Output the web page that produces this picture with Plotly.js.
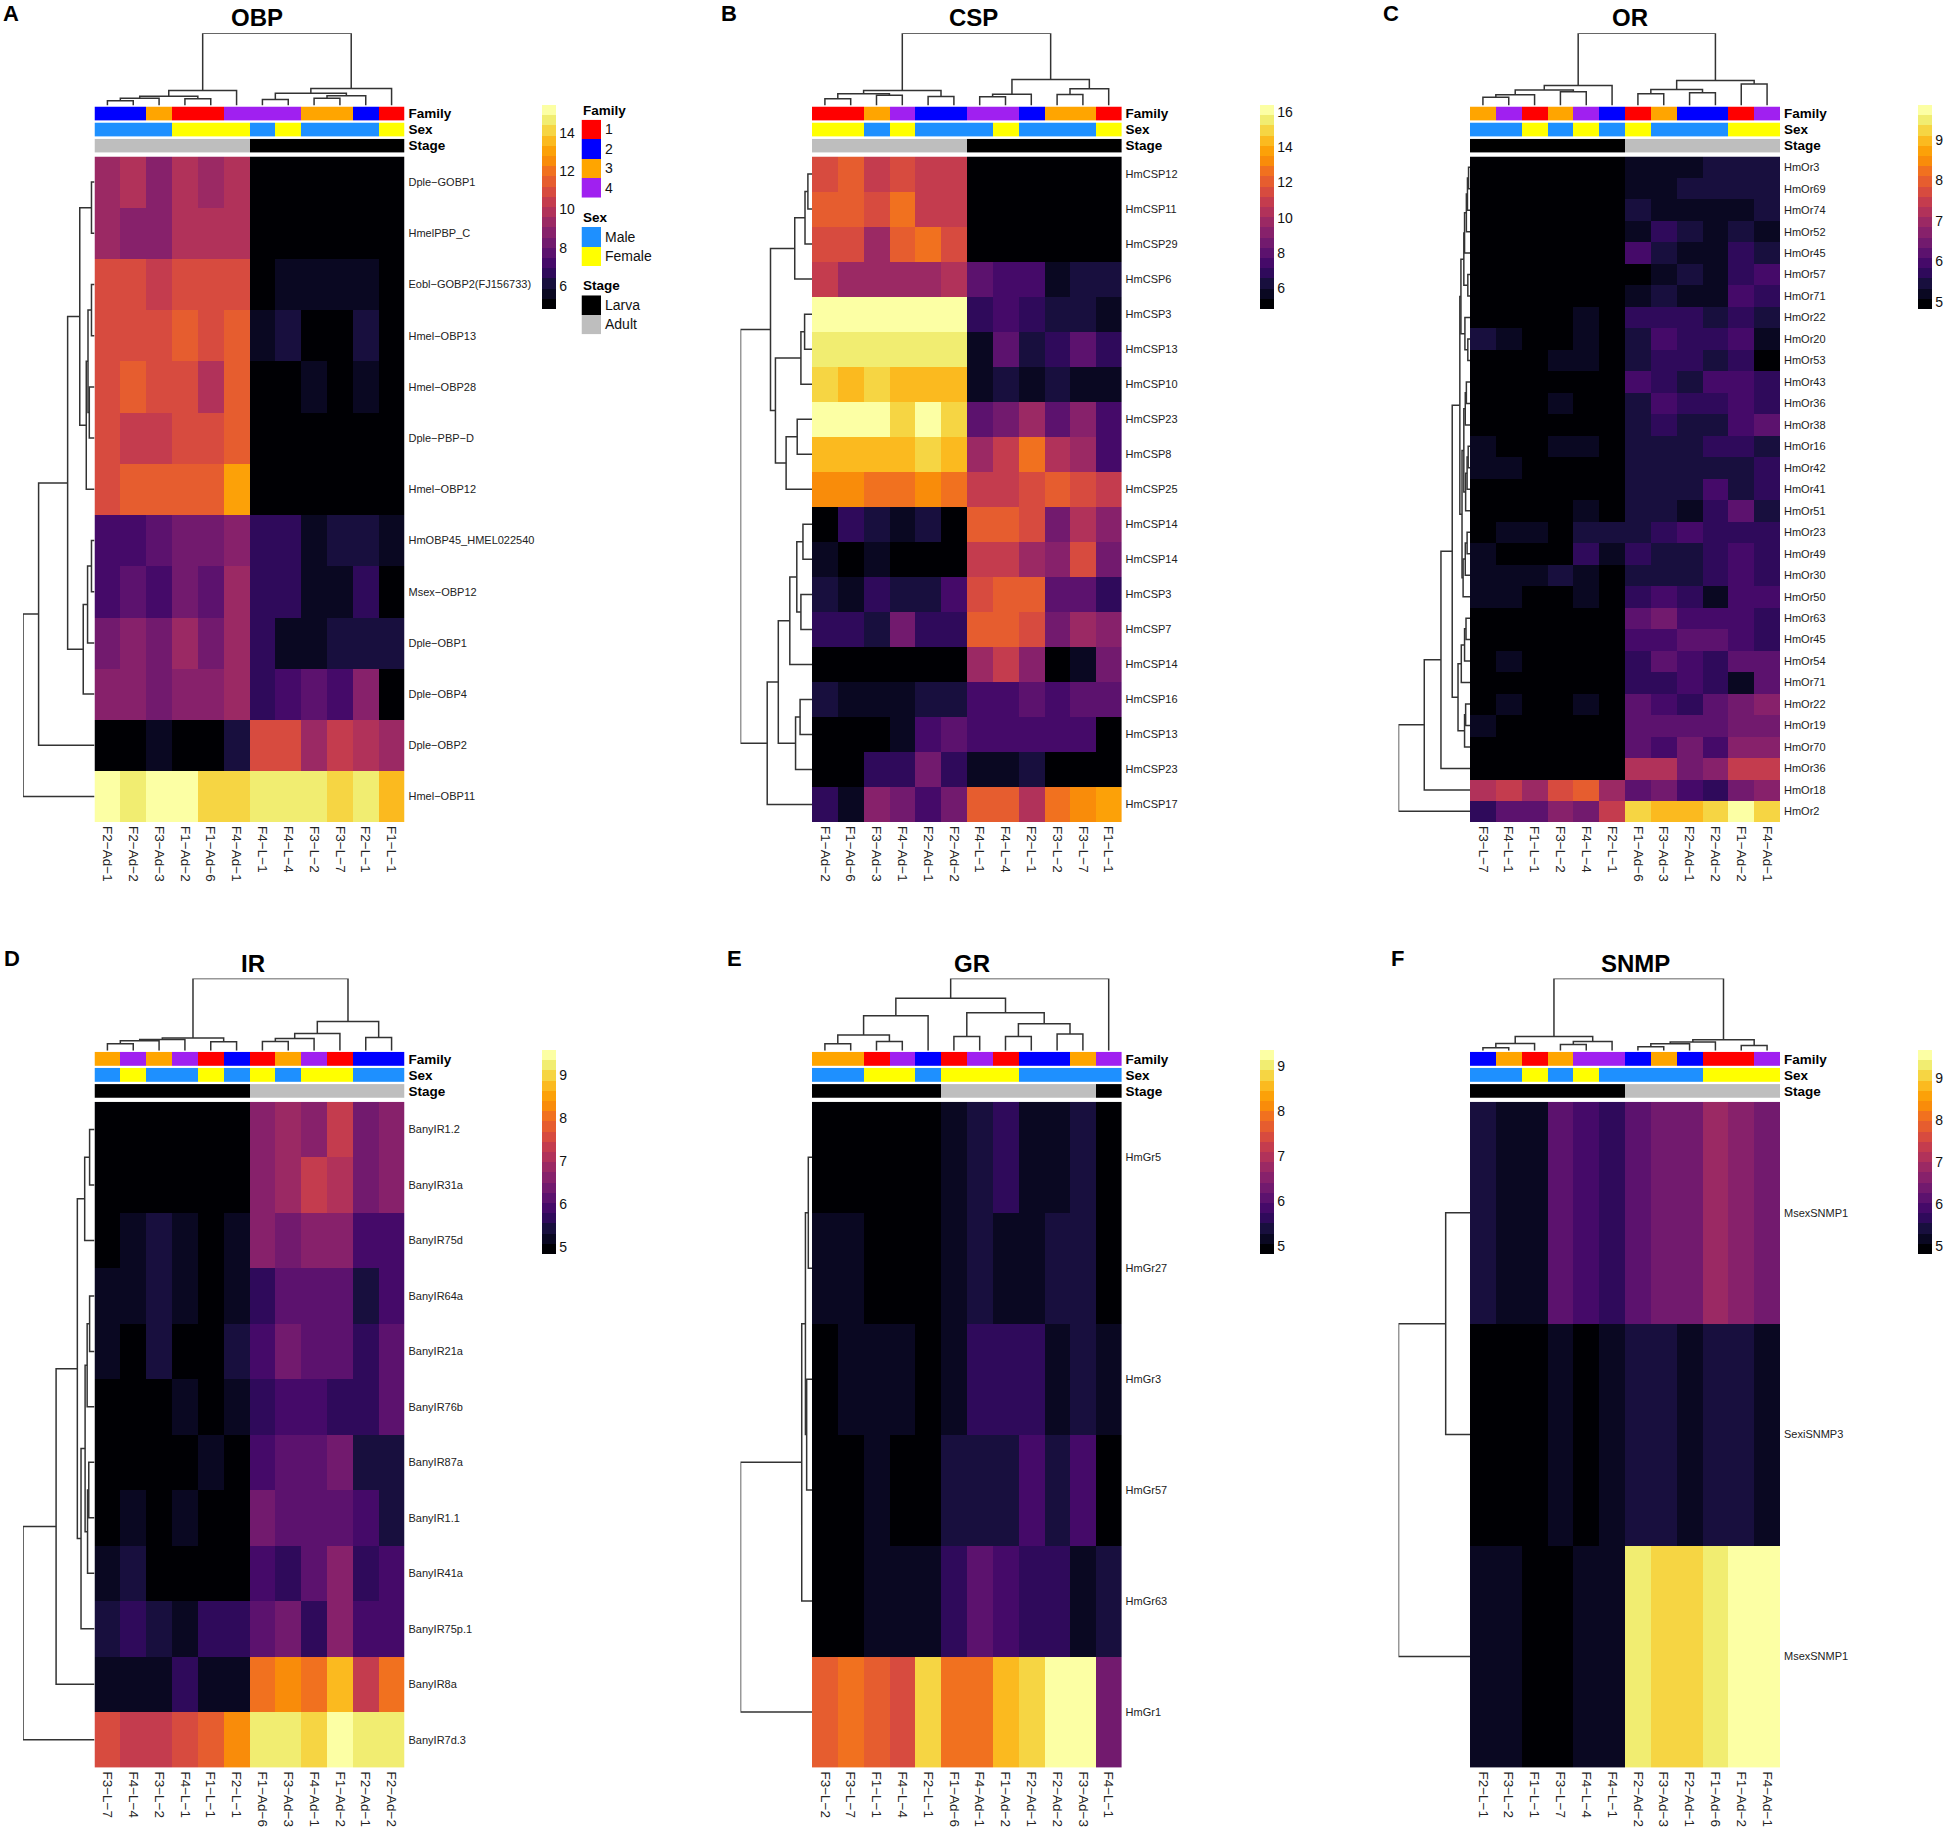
<!DOCTYPE html>
<html>
<head>
<meta charset="utf-8">
<script src="https://cdn.plot.ly/plotly-3.0.1.min.js"></script>
<style>
  html, body { margin: 0; padding: 0; background: #fff; overflow: hidden; }
</style>
</head>
<body>
<div id="plot" style="width:1946px;height:1829px"></div>
<script>
const bandColors = ['#000004', '#0a0822', '#180f3e', '#2f0a5b', '#450a69', '#5c126e', '#721a6e', '#87216b', '#9b2964', '#b1325a',
  '#c43c4e', '#d74b3f', '#e65d2f', '#f1711f', '#f98c0a', '#fca108', '#fbba1f', '#f6d543', '#f1ed71', '#fcffa4'];

const familyColors = ['#ff0000', '#0000ff', '#ffa500', '#a020f0'];
const sexColors = ['#1e90ff', '#ffff00'];
const stageColors = ['#000000', '#bebebe'];
const familyKey = ['1', '2', '3', '4'];
const sexKey = ['Male', 'Female'];
const stageKey = ['Larva', 'Adult'];

// A - OBP
const obpCols = ['F2−Ad−1', 'F2−Ad−2', 'F3−Ad−3', 'F1−Ad−2', 'F1−Ad−6', 'F4−Ad−1', 'F4−L−1', 'F4−L−4', 'F3−L−2', 'F3−L−7', 'F2−L−1', 'F1−L−1'];
const obpRows = ['Dple−GOBP1', 'HmelPBP_C', 'Eobl−GOBP2(FJ156733)', 'Hmel−OBP13', 'Hmel−OBP28', 'Dple−PBP−D', 'Hmel−OBP12', 'HmOBP45_HMEL022540', 'Msex−OBP12', 'Dple−OBP1', 'Dple−OBP4', 'Dple−OBP2', 'Hmel−OBP11'];
const obpFamily = [2, 2, 3, 1, 1, 4, 4, 4, 3, 3, 2, 1];
const obpSex = [0, 0, 0, 1, 1, 1, 0, 1, 0, 0, 0, 1];
const obpStage = [1, 1, 1, 1, 1, 1, 0, 0, 0, 0, 0, 0];
const obpBands = [
  [8, 9, 7, 9, 8, 9, 0, 0, 0, 0, 0, 0],
  [8, 7, 7, 9, 9, 9, 0, 0, 0, 0, 0, 0],
  [11, 11, 10, 11, 11, 11, 0, 1, 1, 1, 1, 0],
  [11, 11, 11, 12, 11, 12, 1, 2, 0, 0, 2, 0],
  [11, 12, 11, 11, 9, 12, 0, 0, 1, 0, 1, 0],
  [11, 10, 10, 11, 11, 12, 0, 0, 0, 0, 0, 0],
  [11, 12, 12, 12, 12, 15, 0, 0, 0, 0, 0, 0],
  [4, 4, 5, 6, 6, 7, 3, 3, 1, 2, 2, 1],
  [4, 5, 4, 6, 5, 8, 3, 3, 1, 1, 3, 0],
  [6, 7, 6, 8, 6, 8, 3, 1, 1, 2, 2, 2],
  [7, 7, 6, 7, 7, 8, 3, 4, 5, 4, 7, 0],
  [0, 0, 1, 0, 0, 2, 11, 11, 8, 10, 9, 8],
  [19, 18, 19, 19, 17, 17, 18, 18, 18, 17, 18, 16]
];
// trees: [height, left, right], 0 is a leaf
const obpColTree = [216, [45, [28, [22, [14, 0, 0], 0], [20, 0, 0]], 0], [51, [37, [18, 0, 0], [29, [22, 0, 0], 0]], 0]];
const obpRowTree = [165, [129, [62, [34, [7, 0, 0], [19, [15, [7, 0, 0], [12, 0, 0]], 0]], [26, [16, [7, 0, 0], 0], 0]], 0], 0];
const obpScale = [4.82, 15.46];
const obpTicks = [6, 8, 10, 12, 14];

// B - CSP
const cspCols = ['F1−Ad−2', 'F1−Ad−6', 'F3−Ad−3', 'F4−Ad−1', 'F2−Ad−1', 'F2−Ad−2', 'F4−L−1', 'F4−L−4', 'F2−L−1', 'F3−L−2', 'F3−L−7', 'F1−L−1'];
const cspRows = ['HmCSP12', 'HmCSP11', 'HmCSP29', 'HmCSP6', 'HmCSP3', 'HmCSP13', 'HmCSP10', 'HmCSP23', 'HmCSP8', 'HmCSP25', 'HmCSP14', 'HmCSP14', 'HmCSP3', 'HmCSP7', 'HmCSP14', 'HmCSP16', 'HmCSP13', 'HmCSP23', 'HmCSP17'];
const cspFamily = [1, 1, 3, 4, 2, 2, 4, 4, 2, 3, 3, 1];
const cspSex = [1, 1, 0, 1, 0, 0, 0, 1, 0, 0, 0, 1];
const cspStage = [1, 1, 1, 1, 1, 1, 0, 0, 0, 0, 0, 0];
const cspBands = [
  [11, 12, 10, 11, 10, 10, 0, 0, 0, 0, 0, 0],
  [12, 12, 11, 13, 10, 10, 0, 0, 0, 0, 0, 0],
  [11, 11, 8, 12, 13, 11, 0, 0, 0, 0, 0, 0],
  [10, 8, 8, 8, 8, 9, 5, 4, 4, 1, 2, 2],
  [19, 19, 19, 19, 19, 19, 3, 4, 3, 2, 2, 1],
  [18, 18, 18, 18, 18, 18, 1, 5, 2, 3, 5, 3],
  [17, 16, 17, 16, 16, 16, 1, 2, 1, 2, 1, 1],
  [19, 19, 19, 17, 19, 17, 5, 6, 8, 5, 7, 4],
  [16, 16, 16, 16, 17, 16, 8, 10, 13, 9, 8, 4],
  [14, 14, 13, 13, 14, 13, 10, 10, 11, 12, 11, 10],
  [0, 3, 2, 1, 2, 0, 12, 12, 11, 6, 9, 7],
  [1, 0, 1, 0, 0, 0, 10, 10, 8, 7, 11, 6],
  [2, 1, 3, 2, 2, 4, 11, 12, 12, 5, 5, 3],
  [3, 3, 2, 6, 3, 3, 12, 12, 11, 6, 8, 7],
  [0, 0, 0, 0, 0, 0, 8, 10, 7, 0, 1, 6],
  [2, 1, 1, 1, 2, 2, 4, 4, 5, 4, 5, 5],
  [0, 0, 0, 1, 4, 5, 4, 4, 4, 4, 4, 0],
  [0, 0, 3, 3, 6, 3, 1, 1, 2, 0, 0, 0],
  [3, 1, 7, 6, 4, 6, 12, 12, 9, 13, 14, 15]
];
const cspColTree = [216, [45, [35, [20, 0, 0], [31, 0, 0]], [27, 0, 0]], [78, [34, [26, 0, 0], 0], [50, [33, 0, 0], 0]]];
const cspRowTree = [174, [101, [42, [17, [10, 0, 0], 0], 0], [89, [27, [18, 0, 0], 0], [63, [36, 0, 0], 0]]], [109, [82, [54, [37, [22, 0, 0], [27, 0, 0]], 0], [40, [29, 0, 0], 0]], 0]];
const cspScale = [4.84, 16.4];
const cspTicks = [6, 8, 10, 12, 14, 16];

// C - OR
const orCols = ['F3−L−7', 'F4−L−1', 'F1−L−1', 'F3−L−2', 'F4−L−4', 'F2−L−1', 'F1−Ad−6', 'F3−Ad−3', 'F2−Ad−1', 'F2−Ad−2', 'F1−Ad−2', 'F4−Ad−1'];
const orRows = ['HmOr3', 'HmOr69', 'HmOr74', 'HmOr52', 'HmOr45', 'HmOr57', 'HmOr71', 'HmOr22', 'HmOr20', 'HmOr53', 'HmOr43', 'HmOr36', 'HmOr38', 'HmOr16', 'HmOr42', 'HmOr41', 'HmOr51', 'HmOr23', 'HmOr49', 'HmOr30', 'HmOr50', 'HmOr63', 'HmOr45', 'HmOr54', 'HmOr71', 'HmOr22', 'HmOr19', 'HmOr70', 'HmOr36', 'HmOr18', 'HmOr2'];
const orFamily = [3, 4, 1, 3, 4, 2, 1, 3, 2, 2, 1, 4];
const orSex = [0, 0, 1, 0, 1, 0, 1, 0, 0, 0, 1, 1];
const orStage = [0, 0, 0, 0, 0, 0, 1, 1, 1, 1, 1, 1];
const orBands = [
  [0, 0, 0, 0, 0, 0, 1, 1, 1, 2, 2, 2],
  [0, 0, 0, 0, 0, 0, 1, 1, 2, 2, 2, 2],
  [0, 0, 0, 0, 0, 0, 2, 1, 1, 1, 1, 2],
  [0, 0, 0, 0, 0, 0, 1, 3, 2, 1, 2, 1],
  [0, 0, 0, 0, 0, 0, 4, 2, 1, 1, 3, 2],
  [0, 0, 0, 0, 0, 0, 0, 1, 2, 1, 3, 4],
  [0, 0, 0, 0, 0, 0, 1, 2, 1, 1, 4, 3],
  [0, 0, 0, 0, 1, 0, 3, 3, 3, 2, 3, 2],
  [2, 1, 0, 0, 1, 0, 2, 4, 3, 3, 4, 1],
  [0, 0, 0, 1, 1, 0, 2, 3, 3, 2, 3, 0],
  [0, 0, 0, 0, 0, 0, 4, 3, 2, 4, 4, 3],
  [0, 0, 0, 1, 0, 0, 2, 4, 3, 3, 4, 3],
  [0, 0, 0, 0, 0, 0, 2, 3, 2, 2, 4, 5],
  [1, 0, 0, 1, 1, 0, 2, 2, 2, 3, 3, 2],
  [1, 1, 0, 0, 0, 0, 2, 2, 2, 2, 2, 3],
  [0, 0, 0, 0, 0, 0, 2, 2, 2, 4, 2, 3],
  [0, 0, 0, 0, 1, 0, 2, 2, 1, 3, 5, 2],
  [0, 1, 1, 0, 2, 2, 2, 3, 4, 3, 3, 3],
  [1, 0, 0, 0, 3, 1, 3, 2, 2, 3, 4, 3],
  [1, 1, 1, 2, 1, 0, 2, 2, 2, 3, 4, 3],
  [1, 1, 0, 0, 1, 0, 3, 4, 3, 1, 4, 4],
  [0, 0, 0, 0, 0, 0, 5, 6, 4, 4, 4, 3],
  [0, 0, 0, 0, 0, 0, 4, 4, 5, 5, 4, 3],
  [0, 1, 0, 0, 0, 0, 3, 5, 4, 3, 5, 5],
  [0, 0, 0, 0, 0, 0, 3, 3, 4, 3, 1, 5],
  [0, 1, 0, 0, 1, 0, 5, 4, 3, 5, 6, 7],
  [1, 0, 0, 0, 0, 0, 5, 5, 5, 5, 6, 6],
  [0, 0, 0, 0, 0, 0, 5, 4, 6, 4, 7, 7],
  [0, 0, 0, 0, 0, 0, 9, 9, 6, 7, 10, 10],
  [9, 10, 8, 11, 12, 8, 5, 6, 4, 3, 6, 7],
  [3, 5, 5, 7, 6, 10, 17, 16, 16, 17, 19, 17]
];
const orColTree = [216, [60, [46, [32, [25, 0, 0], 0], [41, 0, 0]], 0], [75, [48, [35, 0, 0], [38, 0, 0]], [64, 0, 0]]];
const orRowTree = [197, [126, [80, [49,
  [28,
    [25, [17, [15, [10, [7, [4, 0, 0], 0], 0], 0], [6, 0, 0]], [14, 0, [6, 0, 0]]],
    [22, [17, [13, [10, 0, 0], 0], [12, [8, [5, 0, 0], 0], 0]], [19, [13, [8, 0, 0], 0], 0]]],
  [33, [24, [15, [11, 0, 0], 0], 0], [15, [12, 0, 0], 0]]], 0], 0], 0];
const orScale = [4.83, 9.87];
const orTicks = [5, 6, 7, 8, 9];

// D - IR
const irCols = ['F3−L−7', 'F4−L−4', 'F3−L−2', 'F4−L−1', 'F1−L−1', 'F2−L−1', 'F1−Ad−6', 'F3−Ad−3', 'F4−Ad−1', 'F1−Ad−2', 'F2−Ad−1', 'F2−Ad−2'];
const irRows = ['BanyIR1.2', 'BanyIR31a', 'BanyIR75d', 'BanyIR64a', 'BanyIR21a', 'BanyIR76b', 'BanyIR87a', 'BanyIR1.1', 'BanyIR41a', 'BanyIR75p.1', 'BanyIR8a', 'BanyIR7d.3'];
const irFamily = [3, 4, 3, 4, 1, 2, 1, 3, 4, 1, 2, 2];
const irSex = [0, 1, 0, 0, 1, 0, 1, 0, 1, 1, 0, 0];
const irStage = [0, 0, 0, 0, 0, 0, 1, 1, 1, 1, 1, 1];
const irBands = [
  [0, 0, 0, 0, 0, 0, 7, 8, 7, 10, 6, 7],
  [0, 0, 0, 0, 0, 0, 7, 8, 10, 9, 6, 7],
  [0, 1, 2, 1, 0, 1, 7, 6, 7, 7, 4, 4],
  [1, 1, 2, 1, 0, 1, 3, 5, 5, 5, 2, 4],
  [1, 0, 2, 0, 0, 2, 4, 6, 5, 5, 3, 5],
  [0, 0, 0, 1, 0, 1, 3, 4, 4, 3, 3, 5],
  [0, 0, 0, 0, 1, 0, 4, 5, 5, 6, 2, 2],
  [0, 1, 0, 1, 0, 0, 6, 5, 5, 5, 4, 2],
  [1, 2, 0, 0, 0, 0, 4, 3, 5, 7, 3, 4],
  [2, 3, 2, 1, 3, 3, 5, 6, 3, 7, 4, 4],
  [1, 1, 1, 3, 1, 1, 13, 14, 13, 16, 10, 13],
  [11, 10, 10, 11, 12, 14, 18, 18, 17, 19, 18, 18]
];
const irColTree = [216, [38, [34, [30, [21, 0, 0], 0], 0], [27, 0, 0]], [88, [52, [37, [28, 0, 0], 0], 0], [40, 0, 0]]];
const irRowTree = [175, [94, [42, [24, [12, 0, 0], 0], [33, [23, [18, [12, 0, 0], 0], [17, [14, 0, 0], 0]], 0]], 0], 0];
const irScale = [4.83, 9.58];
const irTicks = [5, 6, 7, 8, 9];

// E - GR
const grCols = ['F3−L−2', 'F3−L−7', 'F1−L−1', 'F4−L−4', 'F2−L−1', 'F1−Ad−6', 'F4−Ad−1', 'F1−Ad−2', 'F2−Ad−1', 'F2−Ad−2', 'F3−Ad−3', 'F4−L−1'];
const grRows = ['HmGr5', 'HmGr27', 'HmGr3', 'HmGr57', 'HmGr63', 'HmGr1'];
const grFamily = [3, 3, 1, 4, 2, 1, 4, 1, 2, 2, 3, 4];
const grSex = [0, 0, 1, 1, 0, 1, 1, 1, 0, 0, 0, 0];
const grStage = [0, 0, 0, 0, 0, 1, 1, 1, 1, 1, 1, 0];
const grBands = [
  [0, 0, 0, 0, 0, 1, 2, 3, 1, 1, 2, 0],
  [1, 1, 0, 0, 0, 1, 2, 1, 1, 2, 2, 0],
  [0, 1, 1, 1, 0, 1, 3, 3, 3, 1, 2, 1],
  [0, 0, 1, 0, 0, 2, 2, 2, 4, 2, 4, 0],
  [0, 0, 1, 1, 1, 3, 5, 4, 3, 3, 1, 2],
  [12, 13, 12, 11, 17, 13, 13, 16, 17, 19, 19, 6]
];
const grColTree = [216, [157, [105, [47, [21, 0, 0], [28, 0, 0]], 0], [114, [43, 0, 0], [81, [43, 0, 0], [50, 0, 0]]]], 0];
const grRowTree = [174, [25, [16, [9, 0, 0], [13, 0, 0]], 0], 0];
const grScale = [4.83, 9.36];
const grTicks = [5, 6, 7, 8, 9];

// F - SNMP
const snmpCols = ['F2−L−1', 'F3−L−2', 'F1−L−1', 'F3−L−7', 'F4−L−4', 'F4−L−1', 'F2−Ad−2', 'F3−Ad−3', 'F2−Ad−1', 'F1−Ad−6', 'F1−Ad−2', 'F4−Ad−1'];
const snmpRows = ['MsexSNMP1', 'SexiSNMP3', 'MsexSNMP1'];
const snmpFamily = [2, 3, 1, 3, 4, 4, 2, 3, 2, 1, 1, 4];
const snmpSex = [0, 0, 1, 0, 1, 0, 0, 0, 0, 1, 1, 1];
const snmpStage = [0, 0, 0, 0, 0, 0, 1, 1, 1, 1, 1, 1];
const snmpBands = [
  [2, 1, 1, 5, 4, 3, 5, 6, 6, 8, 7, 6],
  [0, 0, 0, 1, 0, 1, 2, 2, 1, 2, 2, 1],
  [1, 1, 0, 0, 1, 1, 18, 17, 17, 18, 19, 19]
];
const snmpColTree = [216, [43, [22, [9, 0, 0], 0], [28, [19, 0, 0], 0]], [33, [26, [21, [12, 0, 0], 0], 0], [16, 0, 0]]];
const snmpRowTree = [197, [67, 0, 0], 0];
const snmpScale = [4.82, 9.67];
const snmpTicks = [5, 6, 7, 8, 9];

const W = 1946, H = 1829;
const textFont = '"Liberation Sans", Arial, sans-serif';
const lineColor = '#333333';

var traces = [];
var layout = {
  width: W, height: H,
  margin: {l: 0, r: 0, t: 0, b: 0, autoexpand: false},
  paper_bgcolor: '#fff', plot_bgcolor: '#fff',
  showlegend: false,
  font: {family: textFont, color: '#111'},
  annotations: []
};

var axisCount = 1;
function domX(a, b) { return [a / W, b / W]; }
function domY(top, bottom) { return [1 - bottom / H, 1 - top / H]; }

function addAxes(xCfg, yCfg) {
  // returns new axis ids, pass null to leave one out
  axisCount++;
  var base = {showgrid: false, zeroline: false, showline: false, ticks: '', fixedrange: true};
  if (xCfg) layout['xaxis' + axisCount] = Object.assign({}, base, xCfg);
  if (yCfg) layout['yaxis' + axisCount] = Object.assign({}, base, yCfg);
  return {x: 'x' + axisCount, y: 'y' + axisCount};
}

function stepScale(colors) {
  var out = [];
  colors.forEach(function (c, i) {
    out.push([i / colors.length, c]);
    out.push([(i + 1) / colors.length, c]);
  });
  return out;
}

// walks a tree, collects the bracket segments
function treeLines(tree) {
  var next = 0, pos = [], hgt = [];
  function walk(node) {
    if (node === 0) return {p: next++, h: 0};
    var a = walk(node[1]), b = walk(node[2]);
    pos.push(a.p, a.p, b.p, b.p, null);
    hgt.push(a.h, node[0], node[0], b.h, null);
    return {p: (a.p + b.p) / 2, h: node[0]};
  }
  walk(tree);
  return {pos: pos, hgt: hgt};
}

function addLabel(text, x, y, size, bold, anchor) {
  layout.annotations.push({
    text: bold ? '<b>' + text + '</b>' : text,
    xref: 'paper', yref: 'paper', x: x / W, y: 1 - y / H,
    xanchor: anchor, yanchor: 'middle', showarrow: false,
    font: {size: size, family: textFont, color: '#000'}
  });
}

function addPanel(p) {
  var n = p.rows.length, m = p.cols.length;
  var colIdx = p.cols.map(function (c, i) { return i; });
  var rowIdx = p.rows.map(function (r, i) { return i; });
  var [lo, hi] = p.scale;
  var z = p.bands.map(function (row) {
    return row.map(function (b) { return lo + (b + 0.5) * (hi - lo) / 20; });
  });
  var y0 = p.top;

  // heat axes
  var heat = addAxes({
    domain: domX(p.left, p.right), range: [-0.5, m - 0.5], ticklabelstandoff: 3,
    tickvals: colIdx, ticktext: p.cols, tickangle: 90, tickfont: {size: 13.5, color: '#222'}
  }, {
    domain: domY(y0 + 51, y0 + 716.6), range: [n - 0.5, -0.5], side: 'right', ticklabelstandoff: 3,
    tickvals: rowIdx, ticktext: p.rows, tickfont: {size: 11, color: '#222'}
  });
  layout['xaxis' + heat.x.slice(1)].anchor = heat.y;
  layout['yaxis' + heat.y.slice(1)].anchor = heat.x;

  traces.push({
    type: 'heatmap', z: z, x: colIdx, y: rowIdx, xaxis: heat.x, yaxis: heat.y,
    zmin: lo, zmax: hi, colorscale: stepScale(bandColors), hoverinfo: 'skip',
    colorbar: {
      x: p.barX / W, xanchor: 'left', y: 1 - (y0 - 0.7) / H, yanchor: 'top',
      lenmode: 'pixels', len: 203.7, thicknessmode: 'pixels', thickness: 13.5,
      xpad: 0, ypad: 0, outlinewidth: 0, ticks: '', tickvals: p.ticks,
      tickfont: {size: 14, color: '#111', family: textFont}
    }
  });

  // Family, Sex, Stage strips
  [['Family', p.family.map(function (v) { return v - 1; }), familyColors, 1, 14.3],
   ['Sex', p.sex, sexColors, 17, 14.2],
   ['Stage', p.stage, stageColors, 33.3, 13.7]].forEach(function (s) {
    var ax = addAxes(null, {
      domain: domY(y0 + s[3], y0 + s[3] + s[4]), range: [-0.5, 0.5], side: 'right', anchor: heat.x, ticklabelstandoff: 3,
      tickvals: [0], ticktext: ['<b>' + s[0] + '</b>'], tickfont: {size: 13.5, color: '#000'}
    });
    traces.push({
      type: 'heatmap', z: [s[1]], x: colIdx, y: [0], xaxis: heat.x, yaxis: ax.y,
      zmin: -0.5, zmax: s[2].length - 0.5, colorscale: stepScale(s[2]), showscale: false, hoverinfo: 'skip'
    });
  });

  // column dendrogram
  var cl = treeLines(p.colTree);
  var topAx = addAxes(null, {domain: domY(y0 - 72.2, y0), range: [0, 216], visible: false, anchor: heat.x});
  traces.push({
    type: 'scatter', mode: 'lines', x: cl.pos, y: cl.hgt, xaxis: heat.x, yaxis: topAx.y,
    line: {color: lineColor, width: 1.5}, hoverinfo: 'skip', cliponaxis: false
  });

  // row dendrogram
  var rl = treeLines(p.rowTree);
  var leftAx = addAxes({
    domain: domX(p.left - 71.5, p.left), range: [p.rowTree[0], 0], visible: false, anchor: heat.y
  }, null);
  traces.push({
    type: 'scatter', mode: 'lines', x: rl.hgt, y: rl.pos, xaxis: leftAx.x, yaxis: heat.y,
    line: {color: lineColor, width: 1.5}, hoverinfo: 'skip', cliponaxis: false
  });

  addLabel(p.title, p.titleX, y0 - 87.5, 24, true, 'center');
  addLabel(p.letter, p.letterX, y0 - 92, 22, true, 'left');
}

var rowOne = 105.5, rowTwo = 1050.8;
addPanel({title: 'OBP', letter: 'A', letterX: 1, titleX: 256.7, left: 94.5, right: 404.5, top: rowOne, barX: 542, cols: obpCols, rows: obpRows, family: obpFamily, sex: obpSex, stage: obpStage, bands: obpBands, colTree: obpColTree, rowTree: obpRowTree, scale: obpScale, ticks: obpTicks});
addPanel({title: 'CSP', letter: 'B', letterX: 719, titleX: 973.5, left: 812, right: 1121.6, top: rowOne, barX: 1260, cols: cspCols, rows: cspRows, family: cspFamily, sex: cspSex, stage: cspStage, bands: cspBands, colTree: cspColTree, rowTree: cspRowTree, scale: cspScale, ticks: cspTicks});
addPanel({title: 'OR', letter: 'C', letterX: 1381, titleX: 1630, left: 1470, right: 1780, top: rowOne, barX: 1918, cols: orCols, rows: orRows, family: orFamily, sex: orSex, stage: orStage, bands: orBands, colTree: orColTree, rowTree: orRowTree, scale: orScale, ticks: orTicks});
addPanel({title: 'IR', letter: 'D', letterX: 2, titleX: 253, left: 94.5, right: 404.5, top: rowTwo, barX: 542, cols: irCols, rows: irRows, family: irFamily, sex: irSex, stage: irStage, bands: irBands, colTree: irColTree, rowTree: irRowTree, scale: irScale, ticks: irTicks});
addPanel({title: 'GR', letter: 'E', letterX: 725, titleX: 972, left: 812, right: 1121.6, top: rowTwo, barX: 1260, cols: grCols, rows: grRows, family: grFamily, sex: grSex, stage: grStage, bands: grBands, colTree: grColTree, rowTree: grRowTree, scale: grScale, ticks: grTicks});
addPanel({title: 'SNMP', letter: 'F', letterX: 1389, titleX: 1635, left: 1470, right: 1780, top: rowTwo, barX: 1918, cols: snmpCols, rows: snmpRows, family: snmpFamily, sex: snmpSex, stage: snmpStage, bands: snmpBands, colTree: snmpColTree, rowTree: snmpRowTree, scale: snmpScale, ticks: snmpTicks});

// key next to panel A, the swatches are small one column heatmaps
function addKey(name, labels, colors, top) {
  var idx = labels.map(function (l, i) { return i; });
  var ax = addAxes({domain: domX(581.5, 601), range: [-0.5, 0.5], visible: false}, {
    domain: domY(top, top + labels.length * 19.5), range: [labels.length - 0.5, -0.5], side: 'right', ticklabelstandoff: 3,
    tickvals: idx, ticktext: labels, tickfont: {size: 14, color: '#111'}
  });
  layout['xaxis' + ax.x.slice(1)].anchor = ax.y;
  layout['yaxis' + ax.y.slice(1)].anchor = ax.x;
  traces.push({
    type: 'heatmap', z: idx.map(function (i) { return [i]; }), x: [0], y: idx, xaxis: ax.x, yaxis: ax.y,
    zmin: -0.5, zmax: labels.length - 0.5, colorscale: stepScale(colors), showscale: false, hoverinfo: 'skip'
  });
  addLabel(name, 581, top - 9.5, 13.5, true, 'left');
}
addKey('Family', familyKey, familyColors, 119.7);
addKey('Sex', sexKey, sexColors, 227);
addKey('Stage', stageKey, stageColors, 295.3);

Plotly.newPlot('plot', traces, layout, {staticPlot: true});
</script>
</body>
</html>
